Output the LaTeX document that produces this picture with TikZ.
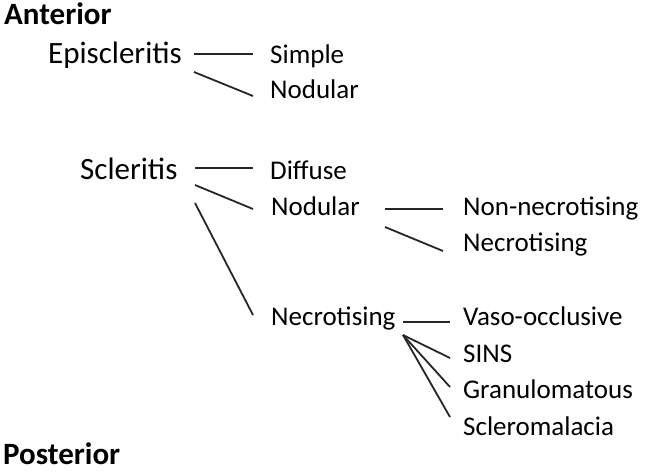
\documentclass[tikz,border=0pt]{standalone}
\usepackage{fontspec}
\setmainfont{Carlito}
\usetikzlibrary{calc}
\begin{document}
\begin{tikzpicture}[x=1pt,y=-1pt,
  big/.style={anchor=base west,inner sep=0pt,font=\fontsize{31}{31}\selectfont},
  head/.style={big,font=\fontsize{31}{31}\selectfont\bfseries},
  small/.style={anchor=base west,inner sep=0pt,font=\fontsize{27}{27}\selectfont},
  link/.style={line width=1.8pt,black!85}]
\useasboundingbox (0,0) rectangle (645,472);
\node[head] (ant) at (4,24) {Anterior};
\node[head,text depth=0pt] (post) at (3,464) {Posterior};
\node[big] (epi) at (48,63) {Episcleritis};
\node[small] (simple) at (270,63) {Simple};
\node[small] (nod1) at (270,98) {Nodular};
\node[big] (scl) at (80,179) {Scleritis};
\node[small] (diff) at (270,179) {Diffuse};
\node[small] (nod2) at (271,215) {Nodular};
\node[small] (nec1) at (271,325) {Necrotising};
\node[small] (nonnec) at (463,215) {Non-necrotising};
\node[small] (nec2) at (463,251) {Necrotising};
\node[small] (vaso) at (463,325) {Vaso-occlusive};
\node[small] (sins) at (463,362) {SINS};
\node[small] (gran) at (463,398) {Granulomatous};
\node[small] (sclm) at (463,435) {Scleromalacia};
% Episcleritis
\draw[link] ($(epi.base west)+(146,-9)$) -- ($(simple.base west)+(-17,-9)$);
\draw[link] ($(epi.base west)+(146,9)$) -- ($(nod1.base west)+(-17,-2)$);
% Scleritis
\draw[link] ($(scl.base west)+(115,-11)$) -- ($(diff.base west)+(-17,-11)$);
\draw[link] ($(scl.base west)+(115,6)$) -- ($(nod2.base west)+(-18,-6)$);
\draw[link] ($(scl.base west)+(115,24)$) -- ($(nec1.base west)+(-18,-10)$);
% Nodular
\draw[link] ($(nod2.base west)+(114,-6)$) -- ($(nonnec.base west)+(-20,-6)$);
\draw[link] ($(nod2.base west)+(114,12)$) -- ($(nec2.base west)+(-20,0)$);
% Necrotising
\draw[link] ($(nec1.base west)+(132,-3)$) -- ($(vaso.base west)+(-13,-3)$);
\draw[link] ($(nec1.base west)+(132,10)$) -- ($(sins.base west)+(-13,-4)$);
\draw[link] ($(nec1.base west)+(132,10)$) -- ($(gran.base west)+(-13,-11)$);
\draw[link] ($(nec1.base west)+(132,10)$) -- ($(sclm.base west)+(-13,-18)$);
\end{tikzpicture}
\end{document}
